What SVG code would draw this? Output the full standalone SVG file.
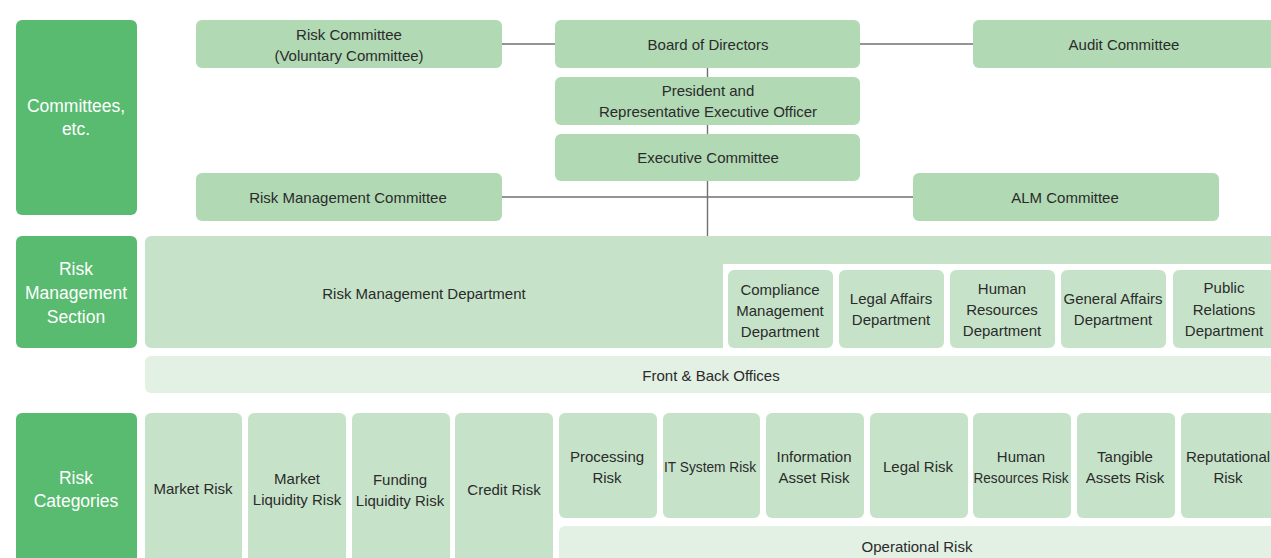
<svg xmlns="http://www.w3.org/2000/svg" width="1271" height="558" viewBox="0 0 1271 558">
  <style>
    .sec { fill: #58bb70; }
    .node { fill: #b0d9b4; }
    .dept { fill: #c6e3c9; }
    .pale { fill: #e2f1e4; }
    .lbl { font-family: "Liberation Sans", Arial, sans-serif; font-size: 15px; fill: #2b2b2b; text-anchor: middle; dominant-baseline: central; }
    .sect { font-family: "Liberation Sans", Arial, sans-serif; font-size: 17.5px; fill: #ffffff; text-anchor: middle; dominant-baseline: central; }
    .conn { stroke: #707070; stroke-width: 1.4; fill: none; }
  </style>
  <rect width="1271" height="558" fill="#ffffff"/>

  <!-- connectors -->
  <g id="connectors">
    <line class="conn" x1="502" y1="44" x2="555" y2="44"/>
    <line class="conn" x1="860" y1="44" x2="973" y2="44"/>
    <line class="conn" x1="707.5" y1="68" x2="707.5" y2="236"/>
    <line class="conn" x1="502" y1="197" x2="913" y2="197"/>
  </g>

  <!-- section labels -->
  <g id="sec-committees">
    <rect class="sec" x="16" y="20" width="121" height="195" rx="6"/>
    <text class="sect" x="76" y="106">Committees,</text>
    <text class="sect" x="76" y="129">etc.</text>
  </g>
  <g id="sec-rm">
    <rect class="sec" x="16" y="236" width="121" height="112" rx="6"/>
    <text class="sect" x="76" y="269">Risk</text>
    <text class="sect" x="76" y="293">Management</text>
    <text class="sect" x="76" y="317">Section</text>
  </g>
  <g id="sec-categories">
    <rect class="sec" x="16" y="413" width="121" height="160" rx="6"/>
    <text class="sect" x="76" y="478">Risk</text>
    <text class="sect" x="76" y="501">Categories</text>
  </g>

  <!-- committees -->
  <g id="risk-committee">
    <rect class="node" x="196" y="20" width="306" height="48" rx="6"/>
    <text class="lbl" x="349" y="34">Risk Committee</text>
    <text class="lbl" x="349" y="55">(Voluntary Committee)</text>
  </g>
  <g id="board">
    <rect class="node" x="555" y="20" width="305" height="48" rx="6"/>
    <text class="lbl" x="708" y="44">Board of Directors</text>
  </g>
  <g id="audit-committee">
    <rect class="node" x="973" y="20" width="310" height="48" rx="6"/>
    <text class="lbl" x="1124" y="44">Audit Committee</text>
  </g>
  <g id="president">
    <rect class="node" x="555" y="77" width="305" height="48" rx="6"/>
    <text class="lbl" x="708" y="90">President and</text>
    <text class="lbl" x="708" y="111">Representative Executive Officer</text>
  </g>
  <g id="executive-committee">
    <rect class="node" x="555" y="134" width="305" height="47" rx="6"/>
    <text class="lbl" x="708" y="157">Executive Committee</text>
  </g>
  <g id="rm-committee">
    <rect class="node" x="196" y="173" width="306" height="48" rx="6"/>
    <text class="lbl" x="348" y="197">Risk Management Committee</text>
  </g>
  <g id="alm-committee">
    <rect class="node" x="913" y="173" width="306" height="48" rx="6"/>
    <text class="lbl" x="1065" y="197">ALM Committee</text>
  </g>

  <!-- risk management section -->
  <g id="rm-department">
    <path class="dept" d="M151,236 H1280 V264 H723 V348 H151 A6,6 0 0 1 145,342 V242 A6,6 0 0 1 151,236 Z"/>
    <text class="lbl" x="424" y="293">Risk Management Department</text>
  </g>
  <g id="compliance">
    <rect class="dept" x="728" y="270" width="105" height="78" rx="6"/>
    <text class="lbl" x="780" y="289">Compliance</text>
    <text class="lbl" x="780" y="310">Management</text>
    <text class="lbl" x="780" y="331">Department</text>
  </g>
  <g id="legal-affairs">
    <rect class="dept" x="839" y="270" width="105" height="78" rx="6"/>
    <text class="lbl" x="891" y="298">Legal Affairs</text>
    <text class="lbl" x="891" y="319">Department</text>
  </g>
  <g id="human-resources">
    <rect class="dept" x="950" y="270" width="105" height="78" rx="6"/>
    <text class="lbl" x="1002" y="288">Human</text>
    <text class="lbl" x="1002" y="309">Resources</text>
    <text class="lbl" x="1002" y="330">Department</text>
  </g>
  <g id="general-affairs">
    <rect class="dept" x="1061" y="270" width="105" height="78" rx="6"/>
    <text class="lbl" x="1113" y="298">General Affairs</text>
    <text class="lbl" x="1113" y="319">Department</text>
  </g>
  <g id="public-relations">
    <rect class="dept" x="1173" y="270" width="110" height="78" rx="6"/>
    <text class="lbl" x="1224" y="287">Public</text>
    <text class="lbl" x="1224" y="309">Relations</text>
    <text class="lbl" x="1224" y="330">Department</text>
  </g>
  <g id="front-back">
    <rect class="pale" x="145" y="356" width="1140" height="37" rx="6"/>
    <text class="lbl" x="711" y="375">Front &amp; Back Offices</text>
  </g>

  <!-- risk categories -->
  <g id="market-risk">
    <rect class="dept" x="145" y="413" width="97" height="160" rx="6"/>
    <text class="lbl" x="193" y="488">Market Risk</text>
  </g>
  <g id="market-liquidity-risk">
    <rect class="dept" x="248" y="413" width="98" height="160" rx="6"/>
    <text class="lbl" x="297" y="478">Market</text>
    <text class="lbl" x="297" y="499">Liquidity Risk</text>
  </g>
  <g id="funding-liquidity-risk">
    <rect class="dept" x="352" y="413" width="98" height="160" rx="6"/>
    <text class="lbl" x="400" y="479">Funding</text>
    <text class="lbl" x="400" y="500">Liquidity Risk</text>
  </g>
  <g id="credit-risk">
    <rect class="dept" x="455" y="413" width="98" height="160" rx="6"/>
    <text class="lbl" x="504" y="489">Credit Risk</text>
  </g>
  <g id="processing-risk">
    <rect class="dept" x="559" y="413" width="98" height="105" rx="6"/>
    <text class="lbl" x="607" y="456">Processing</text>
    <text class="lbl" x="607" y="477">Risk</text>
  </g>
  <g id="it-system-risk">
    <rect class="dept" x="663" y="413" width="97" height="105" rx="6"/>
    <text class="lbl" x="710" y="466" textLength="92" lengthAdjust="spacingAndGlyphs">IT System Risk</text>
  </g>
  <g id="information-asset-risk">
    <rect class="dept" x="766" y="413" width="98" height="105" rx="6"/>
    <text class="lbl" x="814" y="456">Information</text>
    <text class="lbl" x="814" y="477">Asset Risk</text>
  </g>
  <g id="legal-risk">
    <rect class="dept" x="870" y="413" width="98" height="105" rx="6"/>
    <text class="lbl" x="918" y="466">Legal Risk</text>
  </g>
  <g id="human-resources-risk">
    <rect class="dept" x="973" y="413" width="98" height="105" rx="6"/>
    <text class="lbl" x="1021" y="456">Human</text>
    <text class="lbl" x="1021" y="477" textLength="95" lengthAdjust="spacingAndGlyphs">Resources Risk</text>
  </g>
  <g id="tangible-assets-risk">
    <rect class="dept" x="1077" y="413" width="98" height="105" rx="6"/>
    <text class="lbl" x="1125" y="456">Tangible</text>
    <text class="lbl" x="1125" y="477">Assets Risk</text>
  </g>
  <g id="reputational-risk">
    <rect class="dept" x="1181" y="413" width="100" height="105" rx="6"/>
    <text class="lbl" x="1228" y="456">Reputational</text>
    <text class="lbl" x="1228" y="477">Risk</text>
  </g>
  <g id="operational-risk">
    <rect class="pale" x="559" y="526" width="725" height="50" rx="6"/>
    <text class="lbl" x="917" y="546">Operational Risk</text>
  </g>
</svg>
